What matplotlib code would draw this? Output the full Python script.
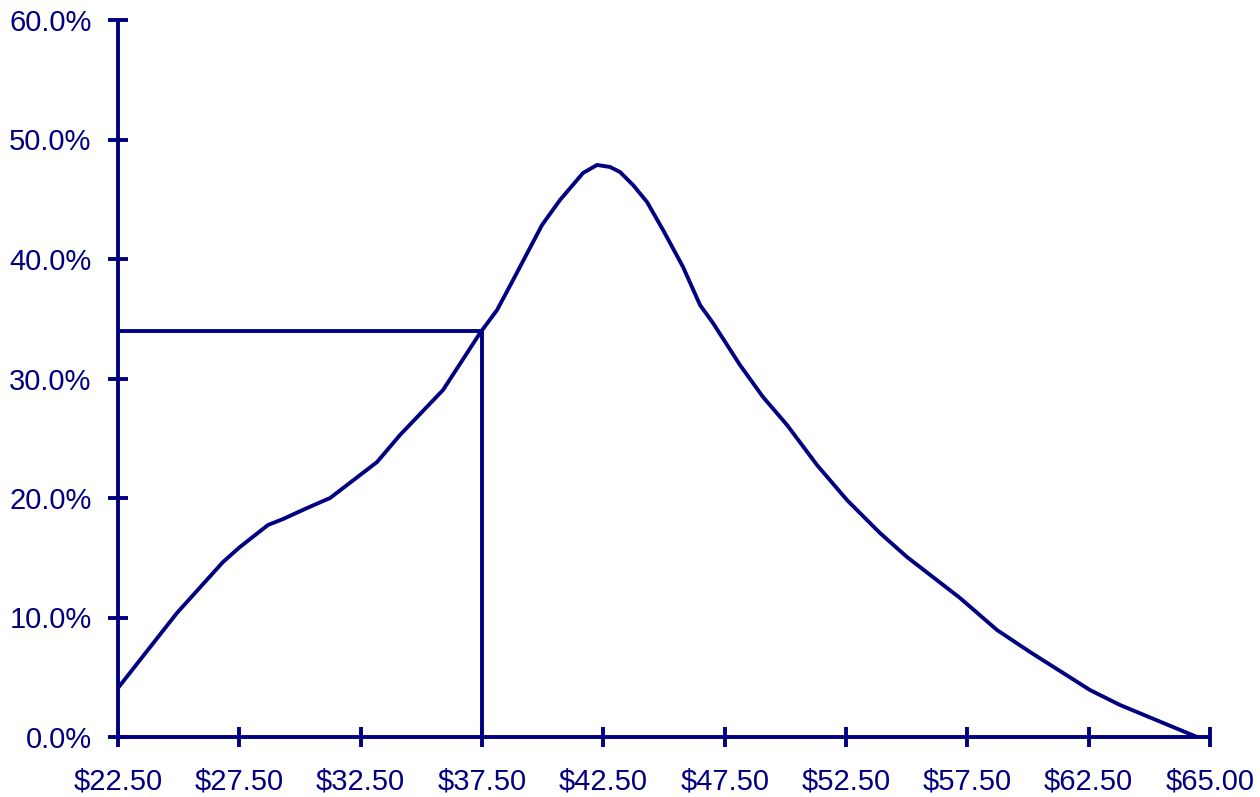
import matplotlib.pyplot as plt
from matplotlib.ticker import FuncFormatter

NAVY = "#000080"

# x is measured in tick steps along the price axis (0 = $22.50)
tick_labels = ["$22.50", "$27.50", "$32.50", "$37.50", "$42.50",
               "$47.50", "$52.50", "$57.50", "$62.50", "$65.00"]

curve_x = [0.00, 0.486, 0.865, 1.005, 1.236, 1.360, 1.558, 1.748, 1.995, 2.135,
           2.324, 2.679, 2.984, 3.124, 3.256, 3.495, 3.643, 3.833, 3.948, 4.055,
           4.137, 4.245, 4.360, 4.492, 4.657, 4.797, 4.904, 5.126, 5.316, 5.514,
           5.761, 6.008, 6.280, 6.503, 6.940, 7.245, 7.517, 8.011, 8.258, 8.893]
curve_pct = [4.10, 10.38, 14.64, 15.90, 17.74, 18.24, 19.16, 20.00, 21.92, 23.01,
             25.27, 29.04, 33.81, 35.73, 38.24, 42.85, 44.94, 47.20, 47.87, 47.70,
             47.28, 46.19, 44.77, 42.43, 39.33, 36.15, 34.64, 31.13, 28.45, 26.11,
             22.76, 19.83, 17.07, 15.06, 11.63, 8.95, 7.11, 3.93, 2.68, 0.00]

ref_x = 3       # $37.50
ref_pct = 34.0

plt.rcParams['font.family'] = ['Liberation Sans', 'DejaVu Sans']

fig = plt.figure(figsize=(12.6, 7.97), dpi=100)
ax = fig.add_axes([118 / 1260, 60 / 797, 1092 / 1260, 717 / 797])

ax.plot(curve_x, curve_pct, color=NAVY, lw=2.8, solid_joinstyle='round')
ax.hlines(ref_pct, 0, ref_x, color=NAVY, lw=2.8)
ax.vlines(ref_x, 0, ref_pct, color=NAVY, lw=2.8)

ax.set_xlim(0, 9)
ax.set_ylim(0, 60)
ax.set_xticks(range(len(tick_labels)))
ax.set_xticklabels([t.replace("$", r"\$") for t in tick_labels])
ax.set_yticks(range(0, 61, 10))
ax.yaxis.set_major_formatter(FuncFormatter(lambda v, p: "{:.1f}%".format(v)))

for s in ["top", "right"]:
    ax.spines[s].set_visible(False)
for s in ["left", "bottom"]:
    ax.spines[s].set_color(NAVY)
    ax.spines[s].set_linewidth(2.8)

ax.tick_params(axis="both", direction="inout", length=14, width=2.8,
               color=NAVY, labelcolor=NAVY, labelsize=21)
ax.tick_params(axis="x", pad=15)
ax.tick_params(axis="y", pad=12)
ax.set_clip_on(False)

fig.savefig("out.png", dpi=100)
